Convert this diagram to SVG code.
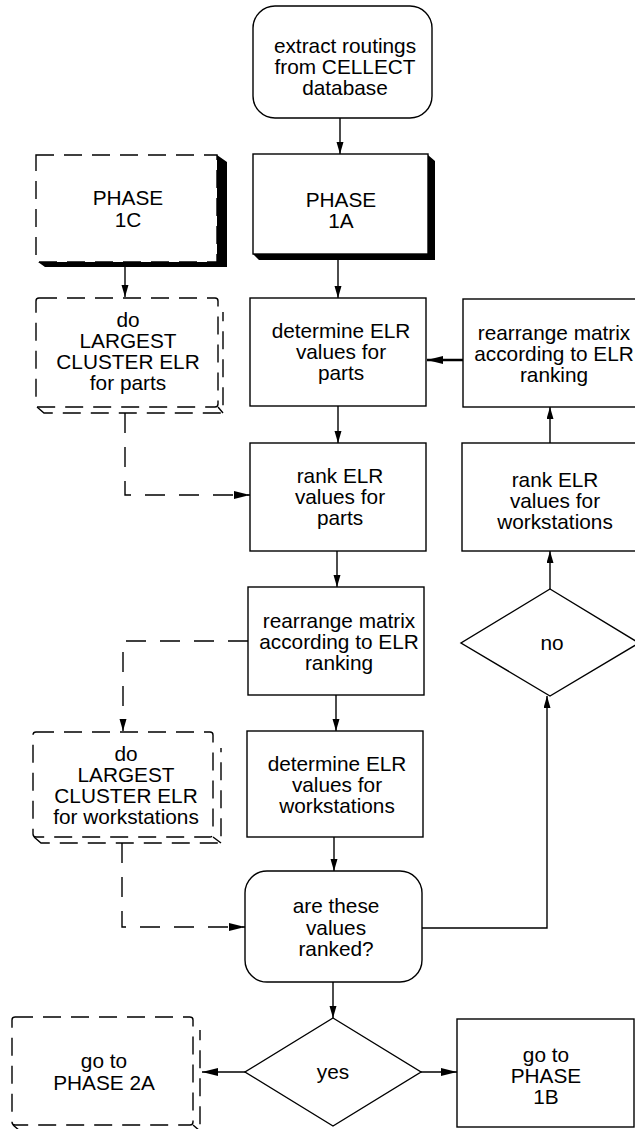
<svg xmlns="http://www.w3.org/2000/svg" width="635" height="1129" viewBox="0 0 635 1129">
<style>
.box{fill:#fff;stroke:#000;stroke-width:1.4}
.dbox{fill:#fff;stroke:#000;stroke-width:1.4;stroke-dasharray:18 10}
.depth{fill:none;stroke:#000;stroke-width:1.4;stroke-dasharray:18 10}
.sh{fill:#000}
.t{font-family:"Liberation Sans",Arial,sans-serif;font-size:20.8px;fill:#000;text-anchor:middle}
.c{fill:none;stroke:#000;stroke-width:1.4}
.cd{fill:none;stroke:#000;stroke-width:1.4;stroke-dasharray:20 14}
</style>
<defs>
<marker id="av" markerUnits="userSpaceOnUse" markerWidth="13" markerHeight="8" refX="12" refY="3.5" orient="auto"><path d="M0,0 L12,3.5 L0,7 z" fill="#000"/></marker>
<marker id="ah" markerUnits="userSpaceOnUse" markerWidth="17" markerHeight="9" refX="16" refY="4" orient="auto"><path d="M0,0 L16,4 L0,8 z" fill="#000"/></marker>
</defs>

<g id="connectors">
<path class="c" d="M340,118 V154" marker-end="url(#av)"/>
<path class="c" d="M338,259 V298" marker-end="url(#av)"/>
<path class="c" d="M338,406 V443" marker-end="url(#av)"/>
<path class="c" d="M337,551 V587" marker-end="url(#av)"/>
<path class="c" d="M336,695 V731" marker-end="url(#av)"/>
<path class="c" d="M334,837 V871" marker-end="url(#av)"/>
<path class="c" d="M333,982 V1018" marker-end="url(#av)"/>
<path class="c" d="M421,1072 H457" marker-end="url(#ah)"/>
<path class="c" d="M245,1072 H202" marker-end="url(#ah)"/>
<path class="c" d="M422,928 H547 V696" marker-end="url(#av)"/>
<path class="c" d="M550,589 V551" marker-end="url(#av)"/>
<path class="c" d="M550,443 V407" marker-end="url(#av)"/>
<path class="c" style="stroke-width:2.4" d="M463,360 H427" marker-end="url(#ah)"/>
<path class="c" d="M125,267 V297" marker-end="url(#av)"/>
<path class="cd" d="M125,413 V495 H250" marker-end="url(#ah)"/>
<path class="cd" d="M248,641 H123 V731" marker-end="url(#av)"/>
<path class="cd" d="M122,843 V927 H245" marker-end="url(#ah)"/>
</g>

<g id="extract">
<rect class="box" x="253" y="6" width="179" height="112" rx="22"/>
<text class="t" x="345" y="53">extract routings</text>
<text class="t" x="345" y="74">from CELLECT</text>
<text class="t" x="345" y="95">database</text>
</g>

<g id="phase1a">
<polygon class="sh" points="428,155 435,161 435,260 259,260 253,254 428,254"/>
<rect class="box" x="253" y="154" width="175" height="100"/>
<text class="t" x="341" y="207">PHASE</text>
<text class="t" x="341" y="228">1A</text>
</g>

<g id="phase1c">
<polygon class="sh" points="217,155 227,162 227,267 45,267 38,262 217,262"/>
<rect class="dbox" x="36" y="155" width="181" height="107"/>
<text class="t" x="128" y="205">PHASE</text>
<text class="t" x="128" y="227">1C</text>
</g>

<g id="cluster-parts">
<path class="depth" d="M37,407 L44,413 H223 V312 M218,407 L223,413"/>
<rect class="dbox" x="36" y="298" width="182" height="109" rx="3"/>
<text class="t" x="128" y="327">do</text>
<text class="t" x="128" y="348">LARGEST</text>
<text class="t" x="128" y="369">CLUSTER ELR</text>
<text class="t" x="128" y="390">for parts</text>
</g>

<g id="det-parts">
<rect class="box" x="250" y="298" width="176" height="108"/>
<text class="t" x="341" y="338">determine ELR</text>
<text class="t" x="341" y="359">values for</text>
<text class="t" x="341" y="380">parts</text>
</g>

<g id="rank-parts">
<rect class="box" x="250" y="443" width="176" height="108"/>
<text class="t" x="340" y="483">rank ELR</text>
<text class="t" x="340" y="504">values for</text>
<text class="t" x="340" y="525">parts</text>
</g>

<g id="rearr-mid">
<rect class="box" x="248" y="587" width="176" height="108"/>
<text class="t" x="339" y="628">rearrange matrix</text>
<text class="t" x="339" y="649">according to ELR</text>
<text class="t" x="339" y="670">ranking</text>
</g>

<g id="cluster-ws">
<path class="depth" d="M34,837 L41,843 H221 V748 M213,837 L221,843"/>
<rect class="dbox" x="33" y="732" width="180" height="105" rx="3"/>
<text class="t" x="126" y="761">do</text>
<text class="t" x="126" y="782">LARGEST</text>
<text class="t" x="126" y="803">CLUSTER ELR</text>
<text class="t" x="126" y="824">for workstations</text>
</g>

<g id="det-ws">
<rect class="box" x="247" y="731" width="176" height="106"/>
<text class="t" x="337" y="771">determine ELR</text>
<text class="t" x="337" y="792">values for</text>
<text class="t" x="337" y="813">workstations</text>
</g>

<g id="ranked">
<rect class="box" x="245" y="871" width="177" height="111" rx="22"/>
<text class="t" x="336" y="913">are these</text>
<text class="t" x="336" y="935">values</text>
<text class="t" x="336" y="956">ranked?</text>
</g>

<g id="yes">
<polygon class="box" points="333,1018 421,1072 333,1126 245,1072"/>
<text class="t" x="333" y="1079">yes</text>
</g>

<g id="goto2a">
<path class="depth" d="M13,1125 L20,1131 H200 V1030 M193,1125 L200,1131"/>
<rect class="dbox" x="12" y="1017" width="181" height="108" rx="3"/>
<text class="t" x="104" y="1068">go to</text>
<text class="t" x="104" y="1090">PHASE 2A</text>
</g>

<g id="goto1b">
<rect class="box" x="457" y="1019" width="177" height="108"/>
<text class="t" x="546" y="1062">go to</text>
<text class="t" x="546" y="1083">PHASE</text>
<text class="t" x="546" y="1104">1B</text>
</g>

<g id="no">
<polygon class="box" points="550,589 639,643 550,696 461,643"/>
<text class="t" x="552" y="650">no</text>
</g>

<g id="rank-ws">
<rect class="box" x="462" y="443" width="190" height="108"/>
<text class="t" x="555" y="487">rank ELR</text>
<text class="t" x="555" y="508">values for</text>
<text class="t" x="555" y="529">workstations</text>
</g>

<g id="rearr-right">
<rect class="box" x="463" y="299" width="190" height="108"/>
<text class="t" x="554" y="340">rearrange matrix</text>
<text class="t" x="554" y="361">according to ELR</text>
<text class="t" x="554" y="382">ranking</text>
</g>
</svg>
